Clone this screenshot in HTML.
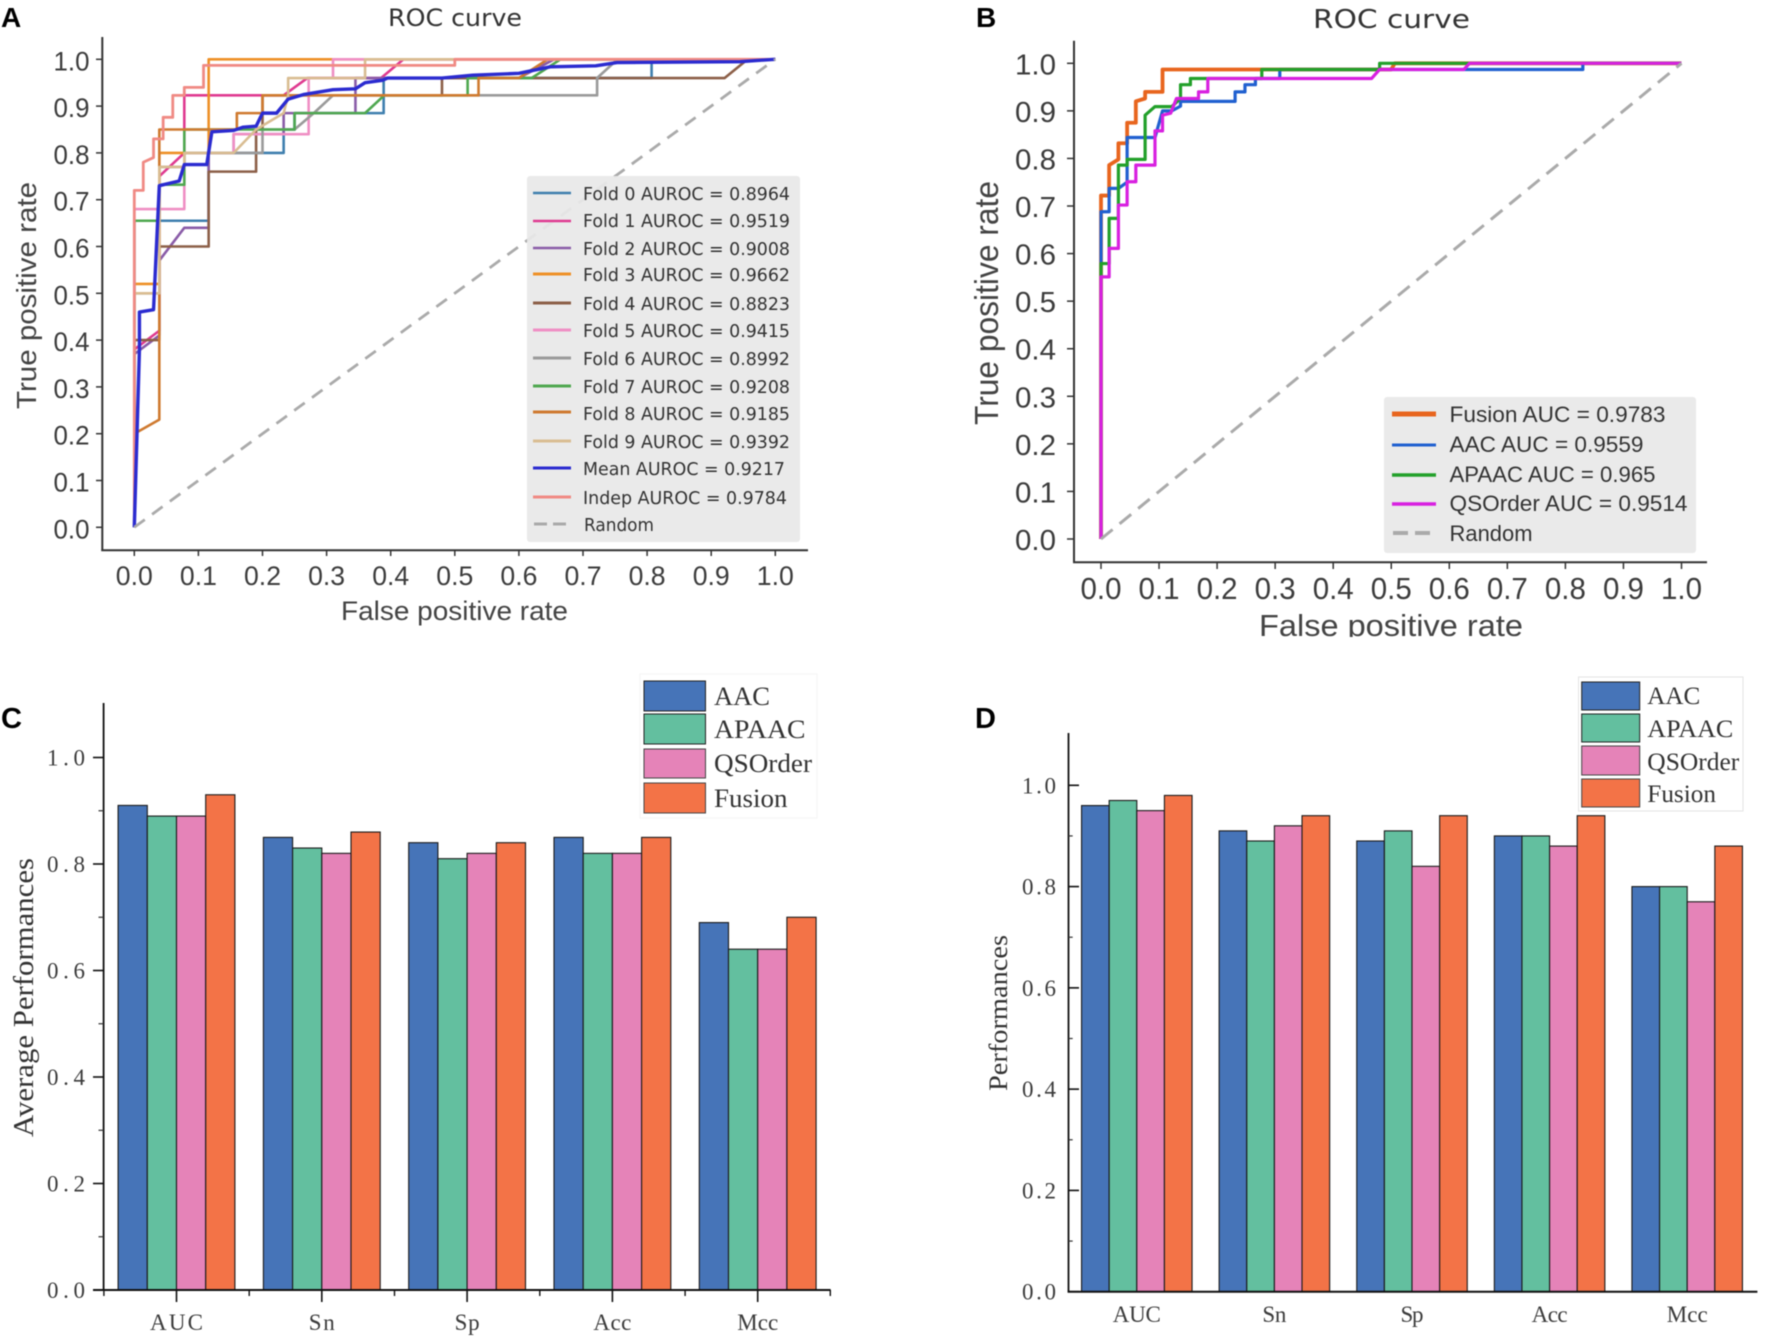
<!DOCTYPE html>
<html lang="en">
<head>
<meta charset="utf-8">
<title>ROC curves and performance bars</title>
<style>
html,body{margin:0;padding:0;background:#fff;width:1772px;height:1344px;overflow:hidden}
svg{display:block;filter:blur(0.6px)}
.sans{font-family:"Liberation Sans",sans-serif}
.dj{font-family:"DejaVu Sans","Liberation Sans",sans-serif}
.serif{font-family:"Liberation Serif",serif}
</style>
</head>
<body>
<svg id="figure" xmlns="http://www.w3.org/2000/svg" width="1772" height="1344" viewBox="0 0 1772 1344">
<rect x="0" y="0" width="1772" height="1344" fill="#fff"/>

<!-- Panel letters -->
<text class="sans" x="1" y="27" font-size="28" font-weight="700" fill="#000">A</text>
<text class="sans" x="976" y="27" font-size="28" font-weight="700" fill="#000">B</text>
<text class="sans" x="1" y="728" font-size="29" font-weight="700" fill="#000" textLength="21" lengthAdjust="spacingAndGlyphs">C</text>
<text class="sans" x="975" y="728" font-size="29" font-weight="700" fill="#000">D</text>

<!-- Panel A -->
<g id="panel-a">
  <text class="dj" x="388" y="26" font-size="24" fill="#333" textLength="134" lengthAdjust="spacingAndGlyphs">ROC curve</text>
  <text class="sans" transform="translate(36,409) rotate(-90)" x="0" y="0" font-size="28" fill="#444" textLength="227" lengthAdjust="spacingAndGlyphs">True positive rate</text>
  <text class="sans" x="341" y="620" font-size="27" fill="#444" textLength="227" lengthAdjust="spacingAndGlyphs">False positive rate</text>
  <g id="a-axes"></g>
  <g id="a-marks"></g>
  <g>
    <rect x="527" y="176" width="273" height="366" rx="3" fill="#e8e8e8" fill-opacity="0.93"/>
    <line x1="533" x2="571" y1="193" y2="193" stroke="#3f7fae" stroke-width="2.5"/>
    <line x1="533" x2="571" y1="221" y2="221" stroke="#df3a90" stroke-width="2.5"/>
    <line x1="533" x2="571" y1="248" y2="248" stroke="#8a5ca8" stroke-width="2.5"/>
    <line x1="533" x2="571" y1="274" y2="274" stroke="#ee9027" stroke-width="3"/>
    <line x1="533" x2="571" y1="303" y2="303" stroke="#8c5f48" stroke-width="3"/>
    <line x1="533" x2="571" y1="330" y2="330" stroke="#ef8fc4" stroke-width="3"/>
    <line x1="533" x2="571" y1="358" y2="358" stroke="#9a9a9a" stroke-width="3"/>
    <line x1="533" x2="571" y1="386" y2="386" stroke="#4fa850" stroke-width="3"/>
    <line x1="533" x2="571" y1="412" y2="412" stroke="#cf7a30" stroke-width="3"/>
    <line x1="533" x2="571" y1="441" y2="441" stroke="#d9bd92" stroke-width="3"/>
    <line x1="533" x2="571" y1="468" y2="468" stroke="#2b2bd0" stroke-width="3"/>
    <line x1="533" x2="571" y1="497" y2="497" stroke="#f08a84" stroke-width="3"/>
    <line x1="534" x2="568" y1="524" y2="524" stroke="#aaa" stroke-width="3" stroke-dasharray="13 6"/>
    <g class="dj" font-size="18" fill="#333">
      <text x="583" y="200" textLength="207" lengthAdjust="spacingAndGlyphs">Fold 0 AUROC = 0.8964</text>
      <text x="583" y="227" textLength="207" lengthAdjust="spacingAndGlyphs">Fold 1 AUROC = 0.9519</text>
      <text x="583" y="255" textLength="207" lengthAdjust="spacingAndGlyphs">Fold 2 AUROC = 0.9008</text>
      <text x="583" y="281" textLength="207" lengthAdjust="spacingAndGlyphs">Fold 3 AUROC = 0.9662</text>
      <text x="583" y="310" textLength="207" lengthAdjust="spacingAndGlyphs">Fold 4 AUROC = 0.8823</text>
      <text x="583" y="337" textLength="207" lengthAdjust="spacingAndGlyphs">Fold 5 AUROC = 0.9415</text>
      <text x="583" y="365" textLength="207" lengthAdjust="spacingAndGlyphs">Fold 6 AUROC = 0.8992</text>
      <text x="583" y="393" textLength="207" lengthAdjust="spacingAndGlyphs">Fold 7 AUROC = 0.9208</text>
      <text x="583" y="420" textLength="207" lengthAdjust="spacingAndGlyphs">Fold 8 AUROC = 0.9185</text>
      <text x="583" y="448" textLength="207" lengthAdjust="spacingAndGlyphs">Fold 9 AUROC = 0.9392</text>
      <text x="583" y="475" textLength="202" lengthAdjust="spacingAndGlyphs">Mean AUROC = 0.9217</text>
      <text x="583" y="504" textLength="204" lengthAdjust="spacingAndGlyphs">Indep AUROC = 0.9784</text>
      <text x="584" y="531" textLength="70" lengthAdjust="spacingAndGlyphs">Random</text>
    </g>
  </g>
</g>

<!-- Panel B -->
<g id="panel-b">
  <text class="dj" x="1313" y="28" font-size="26" fill="#333" textLength="157" lengthAdjust="spacingAndGlyphs">ROC curve</text>
  <text class="sans" transform="translate(998,425) rotate(-90)" x="0" y="0" font-size="33" fill="#444" textLength="244" lengthAdjust="spacingAndGlyphs">True positive rate</text>
  <text class="sans" x="1259" y="636" font-size="31" fill="#444" textLength="264" lengthAdjust="spacingAndGlyphs">False positive rate</text>
  <rect x="1250" y="637" width="285" height="14" fill="#fff"/>
  <g id="b-axes"></g>
  <g id="b-marks"></g>
  <g>
    <rect x="1384" y="397" width="312" height="156" rx="3" fill="#e8e8e8" fill-opacity="0.93"/>
    <line x1="1392" x2="1436" y1="414" y2="414" stroke="#e8651e" stroke-width="5"/>
    <line x1="1392" x2="1436" y1="445" y2="445" stroke="#2060d0" stroke-width="3"/>
    <line x1="1392" x2="1436" y1="475" y2="475" stroke="#22a02a" stroke-width="3.5"/>
    <line x1="1392" x2="1436" y1="504" y2="504" stroke="#d820e0" stroke-width="3.5"/>
    <line x1="1393" x2="1431" y1="533" y2="533" stroke="#aaa" stroke-width="4" stroke-dasharray="15 7"/>
    <g class="sans" font-size="22" fill="#333">
      <text x="1449.5" y="422" textLength="216" lengthAdjust="spacingAndGlyphs">Fusion AUC = 0.9783</text>
      <text x="1449.5" y="452" textLength="194" lengthAdjust="spacingAndGlyphs">AAC AUC = 0.9559</text>
      <text x="1449.5" y="482" textLength="206" lengthAdjust="spacingAndGlyphs">APAAC AUC = 0.965</text>
      <text x="1449.5" y="511" textLength="238" lengthAdjust="spacingAndGlyphs">QSOrder AUC = 0.9514</text>
      <text x="1449.5" y="541" textLength="83" lengthAdjust="spacingAndGlyphs">Random</text>
    </g>
  </g>
</g>

<!-- Panel C -->
<g id="panel-c">
  <text class="serif" transform="translate(33,1137) rotate(-90)" x="0" y="0" font-size="28" fill="#333" textLength="279" lengthAdjust="spacingAndGlyphs">Average Performances</text>
  <g id="c-marks"></g>
  <g id="c-axes"></g>
  <g>
    <rect x="640" y="674" width="177" height="144" fill="#fff" stroke="#f4f4f4"/>
    <rect x="644" y="681" width="61.5" height="30" fill="#4674b8" stroke="#222" stroke-width="1"/>
    <rect x="644" y="714" width="61.5" height="30" fill="#63bf9f" stroke="#222" stroke-width="1"/>
    <rect x="644" y="749" width="61.5" height="29" fill="#e583b8" stroke="#444" stroke-width="1"/>
    <rect x="644" y="783" width="61.5" height="30" fill="#f37347" stroke="#444" stroke-width="1"/>
    <g class="serif" font-size="26" fill="#333">
      <text x="714" y="705" textLength="56" lengthAdjust="spacingAndGlyphs">AAC</text>
      <text x="714" y="738" textLength="91.5" lengthAdjust="spacingAndGlyphs">APAAC</text>
      <text x="714" y="772" textLength="98" lengthAdjust="spacingAndGlyphs">QSOrder</text>
      <text x="714" y="807" textLength="73.5" lengthAdjust="spacingAndGlyphs">Fusion</text>
    </g>
  </g>
</g>

<!-- Panel D -->
<g id="panel-d">
  <text class="serif" transform="translate(1007,1091) rotate(-90)" x="0" y="0" font-size="26" fill="#333" textLength="156" lengthAdjust="spacingAndGlyphs">Performances</text>
  <g id="d-marks"></g>
  <g id="d-axes"></g>
  <g>
    <rect x="1578.5" y="677" width="164.5" height="134" fill="#fff" stroke="#e4e4e4"/>
    <rect x="1581.7" y="682" width="58" height="28" fill="#4674b8" stroke="#222" stroke-width="1"/>
    <rect x="1581.7" y="714" width="58" height="28" fill="#63bf9f" stroke="#222" stroke-width="1"/>
    <rect x="1581.7" y="746" width="58" height="29" fill="#e583b8" stroke="#444" stroke-width="1"/>
    <rect x="1581.7" y="779" width="58" height="28" fill="#f37347" stroke="#444" stroke-width="1"/>
    <g class="serif" font-size="25" fill="#333">
      <text x="1647.3" y="704" textLength="53" lengthAdjust="spacingAndGlyphs">AAC</text>
      <text x="1647.3" y="737" textLength="86" lengthAdjust="spacingAndGlyphs">APAAC</text>
      <text x="1647.3" y="770" textLength="92" lengthAdjust="spacingAndGlyphs">QSOrder</text>
      <text x="1647.3" y="802" textLength="68.7" lengthAdjust="spacingAndGlyphs">Fusion</text>
    </g>
  </g>
</g>
</svg>

<script>
// ---------- Chart data ----------
const rocTicks = [0, 0.1, 0.2, 0.3, 0.4, 0.5, 0.6, 0.7, 0.8, 0.9, 1.0];
const rocTickLabels = ['0.0','0.1','0.2','0.3','0.4','0.5','0.6','0.7','0.8','0.9','1.0'];
const randomLine = [[0,0],[1,1]];

// Panel A: [false positive rate, true positive rate]
const fold0 = [[0,0],[0,.655],[.116,.655],[.116,.80],[.233,.80],[.233,.85],[.25,.85],[.25,.885],[.389,.885],[.389,.96],[.807,.96],[.807,1],[1,1]];
const fold1 = [[0,0],[0,.38],[.039,.42],[.039,.75],[.078,.80],[.078,.923],[.233,.923],[.27,.96],[.385,.96],[.42,1],[1,1]];
const fold2 = [[0,0],[0,.37],[.039,.41],[.039,.57],[.078,.64],[.116,.64],[.116,.80],[.155,.80],[.155,.84],[.233,.84],[.233,.885],[.345,.885],[.345,.96],[.60,.96],[.655,1],[1,1]];
const fold3 = [[0,0],[0,.52],[.039,.52],[.039,.80],[.116,.80],[.116,1],[1,1]];
const fold4 = [[0,0],[0,.40],[.039,.40],[.039,.60],[.116,.60],[.116,.76],[.19,.76],[.19,.85],[.2,.85],[.2,.923],[.48,.923],[.48,.96],[.921,.96],[.957,1],[1,1]];
const fold5 = [[0,0],[0,.68],[.078,.68],[.078,.80],[.155,.80],[.155,.84],[.272,.84],[.272,.96],[.31,.96],[.31,1],[1,1]];
const fold6 = [[0,0],[0,.50],[.039,.50],[.039,.77],[.078,.77],[.078,.80],[.2,.80],[.2,.85],[.25,.85],[.28,.885],[.31,.923],[.722,.923],[.722,.96],[.75,.995],[1,1]];
const fold7 = [[0,0],[0,.655],[.039,.655],[.039,.732],[.078,.732],[.078,.85],[.25,.85],[.25,.885],[.36,.885],[.39,.923],[.52,.923],[.52,.96],[.62,.96],[.665,1],[1,1]];
const fold8 = [[0,0],[0,.20],[.039,.23],[.039,.85],[.16,.85],[.16,.885],[.2,.885],[.2,.923],[.537,.923],[.537,.96],[.60,.96],[.645,1],[1,1]];
const fold9 = [[0,0],[0,.50],[.039,.50],[.039,.77],[.078,.77],[.078,.80],[.155,.80],[.19,.85],[.233,.885],[.24,.923],[.24,.96],[.36,.96],[.36,1],[1,1]];
const foldMean = [[0,0],[.008,.38],[.008,.46],[.03,.465],[.039,.73],[.07,.74],[.078,.775],[.113,.775],[.121,.845],[.155,.848],[.17,.855],[.19,.857],[.2,.885],[.222,.885],[.24,.915],[.265,.925],[.31,.935],[.345,.937],[.36,.95],[.387,.955],[.395,.96],[.48,.96],[.528,.966],[.60,.97],[.649,.984],[.72,.986],[.753,.993],[.945,.995],[1,1]];
const indep = [[0,0],[0,.72],[.014,.72],[.014,.78],[.03,.79],[.03,.83],[.045,.83],[.045,.876],[.06,.876],[.06,.923],[.078,.923],[.078,.94],[.108,.94],[.108,.987],[.5,.987],[.5,1],[1,1]];

// Panel B
const fusionRoc = [[0,0],[0,.722],[.014,.722],[.014,.786],[.03,.798],[.03,.832],[.045,.832],[.045,.875],[.06,.875],[.06,.92],[.076,.926],[.076,.94],[.106,.94],[.106,.987],[.5,.987],[.506,1],[1,1]];
const aacRoc = [[0,0],[0,.688],[.014,.688],[.014,.737],[.03,.737],[.045,.75],[.045,.844],[.093,.844],[.106,.90],[.122,.90],[.137,.91],[.137,.92],[.231,.92],[.231,.94],[.248,.94],[.248,.955],[.266,.955],[.266,.968],[.308,.968],[.308,.987],[.83,.987],[.83,1],[1,1]];
const apaacRoc = [[0,0],[0,.579],[.014,.579],[.014,.674],[.03,.674],[.03,.786],[.045,.786],[.045,.798],[.076,.798],[.076,.891],[.093,.909],[.122,.909],[.137,.926],[.137,.955],[.154,.955],[.154,.968],[.277,.968],[.277,.987],[.48,.987],[.48,1],[1,1]];
const qsorderRoc = [[0,0],[0,.551],[.014,.551],[.014,.611],[.03,.611],[.03,.702],[.045,.702],[.045,.751],[.06,.751],[.06,.786],[.093,.786],[.093,.858],[.106,.858],[.106,.891],[.12,.895],[.13,.926],[.168,.926],[.168,.94],[.184,.94],[.184,.968],[.466,.968],[.48,.987],[.625,.987],[.635,1],[1,1]];

// Panels C and D
const barCategories = ['AUC','Sn','Sp','Acc','Mcc'];
const barTicks = [0, 0.2, 0.4, 0.6, 0.8, 1.0];
const barTickLabels = ['0.0','0.2','0.4','0.6','0.8','1.0'];
const barMinorTicks = [0.1, 0.3, 0.5, 0.7, 0.9];
const barSeriesNames = ['aac','apaac','qsorder','fusion'];

const avgAac = [.91,.85,.84,.85,.69];
const avgApaac = [.89,.83,.81,.82,.64];
const avgQsorder = [.89,.82,.82,.82,.64];
const avgFusion = [.93,.86,.84,.85,.70];

const indAac = [.96,.91,.89,.90,.80];
const indApaac = [.97,.89,.91,.90,.80];
const indQsorder = [.95,.92,.84,.88,.77];
const indFusion = [.98,.94,.94,.94,.88];

// ---------- Styles ----------
const foldColors = ['#3f7fae','#df3a90','#8a5ca8','#ee9027','#8c5f48','#ef8fc4','#9a9a9a','#4fa850','#cf7a30','#d9bd92'];
const barColors = ['#4674b8','#63bf9f','#e583b8','#f37347'];
const NS = 'http://www.w3.org/2000/svg';

// ---------- Axis functions ----------
const xA = v => 134.3 + v * 641;
const yA = v => 527.3 - v * 468;
const xB = v => 1101 + v * 580.5;
const yB = v => 539 - v * 475.7;
const yC = v => 1290 - v * 532.5;
const yD = v => 1291.7 - v * 506.4;
const groupC = i => 176.5 + i * 145.3;
const groupD = i => 1136.8 + i * 137.6;

// ---------- Primitives ----------
function drawLine(parent, name, x1, y1, x2, y2, color, width) {
  const el = document.createElementNS(NS, 'line');
  
  
  el.setAttribute('x1', x1);
  el.setAttribute('y1', y1);
  el.setAttribute('x2', x2);
  el.setAttribute('y2', y2);
  el.setAttribute('stroke', color);
  el.setAttribute('stroke-width', width);
  parent.appendChild(el);
  return el;
}
function drawText(parent, name, x, y, str, family, size, width, anchor) {
  const el = document.createElementNS(NS, 'text');
  
  
  el.setAttribute('x', x);
  el.setAttribute('y', y);
  el.setAttribute('class', family);
  el.setAttribute('font-size', size);
  el.setAttribute('fill', '#3c3c3c');
  el.setAttribute('text-anchor', anchor);
  el.setAttribute('textLength', width);
  el.setAttribute('lengthAdjust', family === 'serif' ? 'spacing' : 'spacingAndGlyphs');
  el.textContent = str;
  parent.appendChild(el);
  return el;
}
function drawCurve(parent, name, pts, xf, yf, color, width, dash) {
  const el = document.createElementNS(NS, 'polyline');
  
  
  el.setAttribute('points', pts.map(p => xf(p[0]).toFixed(2) + ',' + yf(p[1]).toFixed(2)).join(' '));
  el.setAttribute('fill', 'none');
  el.setAttribute('stroke', color);
  el.setAttribute('stroke-width', width);
  el.setAttribute('stroke-linejoin', 'round');
  if (dash) el.setAttribute('stroke-dasharray', dash);
  parent.appendChild(el);
  return el;
}
function drawBar(parent, name, x, y0, y1, w, color) {
  const el = document.createElementNS(NS, 'rect');
  
  
  el.setAttribute('x', x.toFixed(2));
  el.setAttribute('y', y1.toFixed(2));
  el.setAttribute('width', w.toFixed(2));
  el.setAttribute('height', (y0 - y1).toFixed(2));
  el.setAttribute('fill', color);
  el.setAttribute('stroke', '#1a1a1a');
  el.setAttribute('stroke-width', '1.1');
  parent.appendChild(el);
  return el;
}

// ---------- Panel A ----------
(function () {
  const axes = document.getElementById('a-axes');
  const marks = document.getElementById('a-marks');
  drawLine(axes, 'chart-a-y-axis', 102.3, 37, 102.3, 551, '#333', 2);
  drawLine(axes, 'chart-a-x-axis', 101.3, 550.3, 808, 550.3, '#333', 2);
  rocTicks.forEach((t, i) => {
    drawLine(axes, 'chart-a-y-tick', 96, yA(t), 102, yA(t), '#333', 1.5);
    drawLine(axes, 'chart-a-x-tick', xA(t), 550, xA(t), 556, '#333', 1.5);
    drawText(axes, 'chart-a-y-tick-label', 89.5, yA(t) + 11, rocTickLabels[i], 'sans', 27, 36, 'end');
    drawText(axes, 'chart-a-x-tick-label', xA(t), 585, rocTickLabels[i], 'sans', 27, 37, 'middle');
  });
  [fold0, fold1, fold2, fold3, fold4, fold5, fold6, fold7, fold8, fold9].forEach((f, i) => {
    drawCurve(marks, 'fold-' + i + '-curve', f, xA, yA, foldColors[i], 2.6);
  });
  drawCurve(marks, 'indep-curve', indep, xA, yA, '#f08a84', 2.8);
  drawCurve(marks, 'mean-curve', foldMean, xA, yA, '#2b2bd0', 3.4);
  drawCurve(marks, 'random-line', randomLine, xA, yA, '#aaa', 2.8, '13 9');
})();

// ---------- Panel B ----------
(function () {
  const axes = document.getElementById('b-axes');
  const marks = document.getElementById('b-marks');
  drawLine(axes, 'chart-b-y-axis', 1074, 40.7, 1074, 563, '#333', 2);
  drawLine(axes, 'chart-b-x-axis', 1073, 562.3, 1707, 562.3, '#333', 2);
  rocTicks.forEach((t, i) => {
    drawLine(axes, 'chart-b-y-tick', 1067, yB(t), 1074, yB(t), '#333', 1.5);
    drawLine(axes, 'chart-b-x-tick', xB(t), 562, xB(t), 569, '#333', 1.5);
    drawText(axes, 'chart-b-y-tick-label', 1056, yB(t) + 11, rocTickLabels[i], 'sans', 29, 41, 'end');
    drawText(axes, 'chart-b-x-tick-label', xB(t), 599, rocTickLabels[i], 'sans', 31, 41, 'middle');
  });
  drawCurve(marks, 'fusion-curve', fusionRoc, xB, yB, '#e8651e', 3.8);
  drawCurve(marks, 'aac-curve', aacRoc, xB, yB, '#2060d0', 3.2);
  drawCurve(marks, 'apaac-curve', apaacRoc, xB, yB, '#22a02a', 3.2);
  drawCurve(marks, 'qsorder-curve', qsorderRoc, xB, yB, '#d820e0', 3.2);
  drawCurve(marks, 'random-line-b', randomLine, xB, yB, '#aaa', 3, '15 9');
})();

// ---------- Bar panels ----------
function drawBars(parent, series, yf, groupf, groupWidth, panel) {
  const w = groupWidth / series.length;
  barCategories.forEach((cat, i) => {
    series.forEach((vals, s) => {
      const x = groupf(i) - groupWidth / 2 + s * w;
      drawBar(parent, 'bar-' + panel + '-' + barSeriesNames[s] + '-' + cat.toLowerCase(), x, yf(0), yf(vals[i]), w, barColors[s]);
    });
  });
}

(function () {
  const axes = document.getElementById('c-axes');
  const marks = document.getElementById('c-marks');
  drawBars(marks, [avgAac, avgApaac, avgQsorder, avgFusion], yC, groupC, 116.8, 'c');
  drawLine(axes, 'chart-c-y-axis', 103.6, 703, 103.6, 1291, '#111', 1.8);
  drawLine(axes, 'chart-c-x-axis', 93, 1290, 830.6, 1290, '#111', 2);
  barTicks.forEach((t, i) => {
    drawLine(axes, 'chart-c-y-tick', 93, yC(t), 103.6, yC(t), '#111', 1.6);
    drawText(axes, 'chart-c-y-tick-label', 66, yC(t) + 8, barTickLabels[i], 'serif', 23, 38, 'middle');
  });
  barMinorTicks.forEach(t => {
    drawLine(axes, 'chart-c-y-minor-tick', 98.5, yC(t), 103.6, yC(t), '#333', 1.2);
  });
  barCategories.forEach((cat, i) => {
    drawLine(axes, 'chart-c-x-tick', groupC(i), 1290, groupC(i), 1302, '#111', 1.6);
    drawLine(axes, 'chart-c-x-minor-tick', groupC(i) - 72.6, 1290, groupC(i) - 72.6, 1296, '#111', 1.4);
  });
  drawLine(axes, 'chart-c-x-minor-tick', groupC(4) + 72.6, 1290, groupC(4) + 72.6, 1296, '#111', 1.4);
  const widthsC = [53, 26, 25, 38, 41];
  barCategories.forEach((cat, i) => {
    drawText(axes, 'chart-c-x-tick-label', groupC(i), 1330, cat, 'serif', 23, widthsC[i], 'middle');
  });
})();

(function () {
  const axes = document.getElementById('d-axes');
  const marks = document.getElementById('d-marks');
  drawBars(marks, [indAac, indApaac, indQsorder, indFusion], yD, groupD, 110.5, 'd');
  drawLine(axes, 'chart-d-y-axis', 1068.5, 733, 1068.5, 1292, '#111', 1.8);
  drawLine(axes, 'chart-d-x-axis', 1067.6, 1291.7, 1757.4, 1291.7, '#111', 2);
  barTicks.forEach((t, i) => {
    drawLine(axes, 'chart-d-y-tick', 1068.5, yD(t), 1079, yD(t), '#111', 1.6);
    drawText(axes, 'chart-d-y-tick-label', 1039, yD(t) + 8, barTickLabels[i], 'serif', 23, 34, 'middle');
  });
  barMinorTicks.forEach(t => {
    drawLine(axes, 'chart-d-y-minor-tick', 1068.5, yD(t), 1072.7, yD(t), '#333', 1.2);
  });
  const widthsD = [48, 24, 23, 36, 41];
  barCategories.forEach((cat, i) => {
    drawText(axes, 'chart-d-x-tick-label', groupD(i), 1322, cat, 'serif', 23, widthsD[i], 'middle');
  });
})();
</script>
</body>
</html>
